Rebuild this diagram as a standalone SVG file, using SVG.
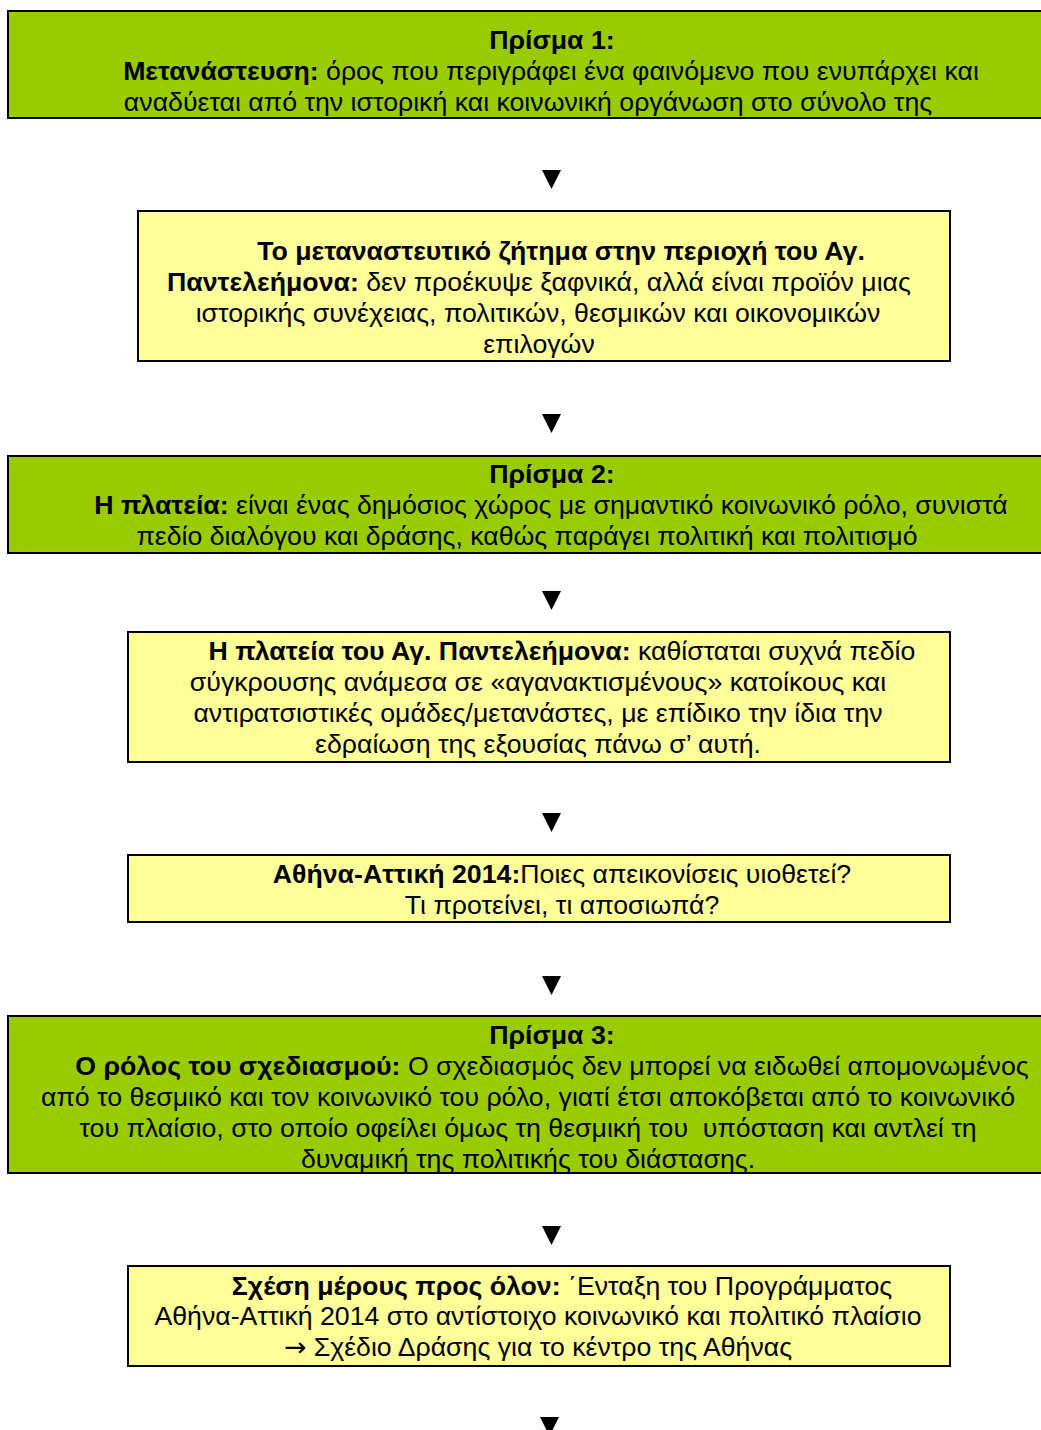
<svg xmlns="http://www.w3.org/2000/svg" width="1041" height="1430" viewBox="0 0 1041 1430">
<style>
.g{fill:#99CC00;stroke:#000;stroke-width:2}
.y{fill:#FFFF99;stroke:#000;stroke-width:2}
text{font-family:"Liberation Sans",Arial,sans-serif;font-size:26.7px;fill:#000;text-anchor:middle}
.b{font-weight:bold}
.sym{font-family:"DejaVu Sans",sans-serif}
.arr{fill:#000}
</style>
<defs>
<polygon id="tri" points="-9.5,0 9.5,0 0,19"/>
</defs>
<rect x="0" y="0" width="1041" height="1430" fill="#fff"/>
<g id="connectors">
<use href="#tri" class="arr" x="551.5" y="170"/>
<use href="#tri" class="arr" x="551.5" y="414"/>
<use href="#tri" class="arr" x="551.5" y="591"/>
<use href="#tri" class="arr" x="551.5" y="813"/>
<use href="#tri" class="arr" x="551.5" y="976"/>
<use href="#tri" class="arr" x="551.5" y="1226"/>
<use href="#tri" class="arr" x="549.5" y="1417"/>
</g>
<g id="prism1">
<rect class="g" x="8" y="11" width="1045" height="107"/>
<text x="552" y="49" class="b">Πρίσμα 1:</text>
<text x="551" y="80"><tspan class="b">Μετανάστευση:</tspan> όρος που περιγράφει ένα φαινόμενο που ενυπάρχει και</text>
<text x="528" y="111">αναδύεται από την ιστορική και κοινωνική οργάνωση στο σύνολο της</text>
</g>
<g id="issue">
<rect class="y" x="138" y="211" width="812" height="150"/>
<text x="561" y="260" class="b">Το μεταναστευτικό ζήτημα στην περιοχή του Αγ.</text>
<text x="539" y="291"><tspan class="b">Παντελεήμονα:</tspan> δεν προέκυψε ξαφνικά, αλλά είναι προϊόν μιας</text>
<text x="538" y="322">ιστορικής συνέχειας, πολιτικών, θεσμικών και οικονομικών</text>
<text x="539" y="353">επιλογών</text>
</g>
<g id="prism2">
<rect class="g" x="8" y="456" width="1045" height="97"/>
<text x="552" y="483" class="b">Πρίσμα 2:</text>
<text x="551" y="514"><tspan class="b">Η πλατεία:</tspan> είναι ένας δημόσιος χώρος με σημαντικό κοινωνικό ρόλο, συνιστά</text>
<text x="527" y="545">πεδίο διαλόγου και δράσης, καθώς παράγει πολιτική και πολιτισμό</text>
</g>
<g id="square">
<rect class="y" x="128" y="632" width="822" height="130"/>
<text x="562" y="660"><tspan class="b">Η πλατεία του Αγ. Παντελεήμονα:</tspan> καθίσταται συχνά πεδίο</text>
<text x="538" y="691">σύγκρουσης ανάμεσα σε «αγανακτισμένους» κατοίκους και</text>
<text x="538" y="722">αντιρατσιστικές ομάδες/μετανάστες, με επίδικο την ίδια την</text>
<text x="538" y="753">εδραίωση της εξουσίας πάνω σ’ αυτή.</text>
</g>
<g id="athens2014">
<rect class="y" x="128" y="855" width="822" height="67"/>
<text x="562" y="883"><tspan class="b">Αθήνα-Αττική 2014:</tspan>Ποιες απεικονίσεις υιοθετεί?</text>
<text x="562" y="914">Τι προτείνει, τι αποσιωπά?</text>
</g>
<g id="prism3">
<rect class="g" x="8" y="1016" width="1045" height="157"/>
<text x="552" y="1044" class="b">Πρίσμα 3:</text>
<text x="552" y="1075"><tspan class="b">Ο ρόλος του σχεδιασμού:</tspan> Ο σχεδιασμός δεν μπορεί να ειδωθεί απομονωμένος</text>
<text x="528" y="1106">από το θεσμικό και τον κοινωνικό του ρόλο, γιατί έτσι αποκόβεται από το κοινωνικό</text>
<text x="528" y="1137">του πλαίσιο, στο οποίο οφείλει όμως τη θεσμική του&#160; υπόσταση και αντλεί τη</text>
<text x="528" y="1168">δυναμική της πολιτικής του διάστασης.</text>
</g>
<g id="part-whole">
<rect class="y" x="128" y="1266" width="822" height="100"/>
<text x="562" y="1295"><tspan class="b">Σχέση μέρους προς όλον:</tspan> ΄Ενταξη του Προγράμματος</text>
<text x="538" y="1325">Αθήνα-Αττική 2014 στο αντίστοιχο κοινωνικό και πολιτικό πλαίσιο</text>
<text x="538" y="1356"><tspan class="sym">→</tspan> Σχέδιο Δράσης για το κέντρο της Αθήνας</text>
</g>
</svg>
